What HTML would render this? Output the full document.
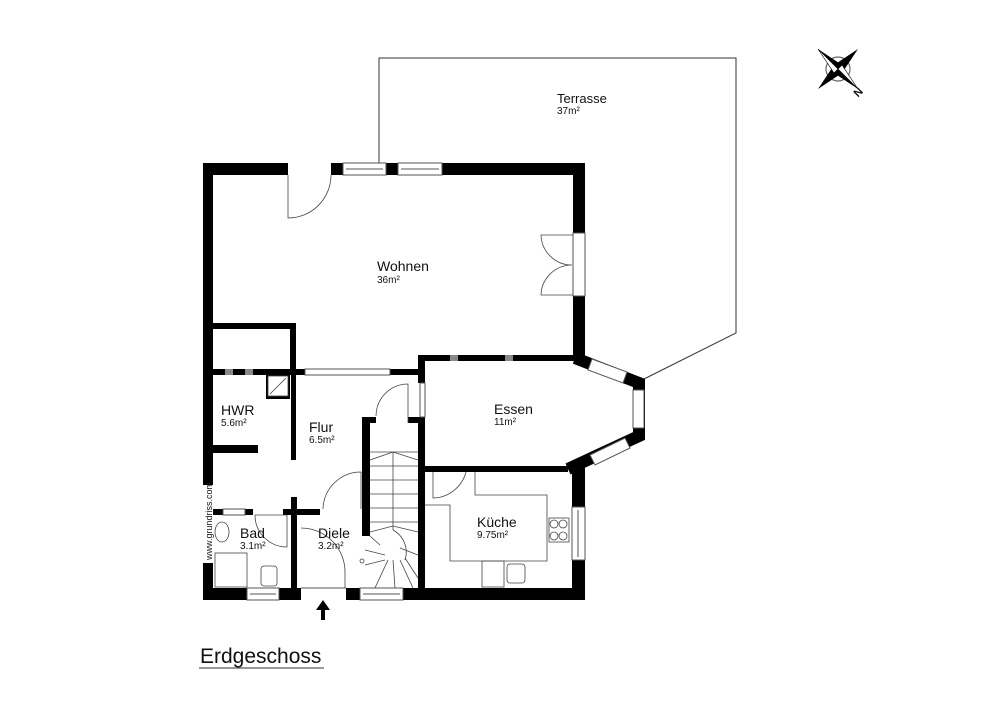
<!DOCTYPE html>
<html><head><meta charset="utf-8"><style>
html,body{margin:0;padding:0;background:#fff}
svg{display:block}
text{font-family:"Liberation Sans",sans-serif;fill:#111}
</style></head><body>
<svg width="1000" height="709" viewBox="0 0 1000 709" xmlns="http://www.w3.org/2000/svg">
<rect width="1000" height="709" fill="#fff"/>
<polyline points="379,163 379,58 736,58 736,333 642,380" fill="none" stroke="#333" stroke-width="1"/>
<text x="557" y="103" font-size="13">Terrasse</text>
<text x="557" y="114" font-size="10">37m²</text>

<g fill="#000">
<rect x="203" y="163" width="10" height="437"/>
<rect x="203" y="163" width="85" height="12"/>
<rect x="331" y="163" width="12" height="12"/>
<rect x="386" y="163" width="12" height="12"/>
<rect x="442" y="163" width="143" height="12"/>
<rect x="573" y="163" width="12" height="70"/>
<rect x="573" y="296" width="12" height="65"/>
<rect x="203" y="588" width="44" height="12"/>
<rect x="279" y="588" width="22" height="12"/>
<rect x="346" y="588" width="14" height="12"/>
<rect x="403" y="588" width="182" height="12"/>
<rect x="213" y="323" width="83" height="6"/>
<rect x="290" y="323" width="6" height="50"/>
<rect x="213" y="369" width="92" height="6"/>
<rect x="390" y="369" width="30" height="6"/>
<rect x="266" y="369" width="24" height="30"/>
<rect x="291" y="375" width="5" height="85"/>
<rect x="213" y="445" width="45" height="8"/>
<rect x="213" y="509" width="10" height="6"/>
<rect x="245" y="509" width="8" height="6"/>
<rect x="283" y="509" width="37" height="6"/>
<rect x="291" y="497" width="6" height="91"/>
<rect x="362" y="417" width="8" height="119"/>
<rect x="362" y="417" width="14" height="6"/>
<rect x="408" y="417" width="17" height="6"/>
<rect x="418" y="355" width="7" height="28"/>
<rect x="418" y="417" width="7" height="181"/>
<rect x="418" y="355" width="160" height="6"/>
<rect x="418" y="466" width="150" height="6"/>
<rect x="572" y="466" width="13" height="41"/>
<rect x="572" y="560" width="13" height="38"/>
</g>
<rect x="203" y="485" width="10" height="78" fill="#fff"/>
<polyline points="575,358 639,383 639,436 568,469" fill="none" stroke="#000" stroke-width="12" stroke-linejoin="miter"/>
<g stroke="#555" stroke-width="1" fill="#fff">
<polygon points="592,359 627,372 623,383 588,370"/>
<rect x="633" y="390" width="11" height="38"/>
<polygon points="590,455 625,438 630,448 595,465"/>
</g>
<g fill="#fff" stroke="#555" stroke-width="1">
<rect x="343" y="163" width="43" height="12"/><line x1="346" y1="169" x2="383" y2="169"/>
<rect x="398" y="163" width="44" height="12"/><line x1="401" y1="169" x2="439" y2="169"/>
<rect x="573" y="233" width="12" height="63"/>
<rect x="247" y="588" width="32" height="12"/><line x1="250" y1="594" x2="276" y2="594"/>
<rect x="360" y="588" width="43" height="12"/><line x1="363" y1="594" x2="400" y2="594"/>
<rect x="572" y="507" width="13" height="53"/><line x1="578" y1="510" x2="578" y2="557"/>
<rect x="305" y="369" width="85" height="6"/>
<rect x="420" y="383" width="5" height="34"/>
<rect x="223" y="509" width="22" height="6"/>
<line x1="301" y1="588" x2="346" y2="588"/>
</g>
<g fill="#888"><rect x="505" y="355" width="8" height="6"/><rect x="450" y="355" width="8" height="6"/><rect x="225" y="369" width="8" height="6"/><rect x="245" y="369" width="8" height="6"/></g>
<g fill="none" stroke="#444" stroke-width="0.8">
<path d="M288,175 V218 A43,43 0 0 0 331,175"/>
<path d="M573,235 H541 A31,31 0 0 0 572,265 M573,295 H541 A31,31 0 0 1 572,265"/>
<path d="M408,423 V384 A32,32 0 0 0 376,416"/>
<path d="M361,509 V472 A38,38 0 0 0 323,509"/>
<path d="M301,528 A44,44 0 0 1 345,572 V588"/>
<path d="M255,515 H287 V547 A32,32 0 0 1 255,515"/>
<path d="M433,472 V498 A35,35 0 0 0 466,472"/>
<rect x="268" y="376" width="20" height="20" fill="#fff"/><line x1="270" y1="394" x2="286" y2="378"/>
<polyline points="425,505 450,505 450,561 547,561 547,495 475,495 475,472"/>
<rect x="482" y="561" width="22" height="26"/><rect x="507" y="564" width="18" height="19" rx="3"/>
<rect x="549" y="518" width="20" height="24"/>
<circle cx="554" cy="524" r="4"/><circle cx="563" cy="524" r="4"/><circle cx="554" cy="536" r="4"/><circle cx="563" cy="536" r="4"/>
<rect x="215" y="553" width="32" height="34"/><ellipse cx="222" cy="532" rx="7" ry="10"/>
<rect x="261" y="566" width="16" height="20" rx="3"/>
<line x1="370" y1="452" x2="418" y2="452"/>
<path d="M370,460 L393,452 L418,460 M370,532 L393,526 L418,532"/>
<line x1="370" y1="466" x2="418" y2="466"/><line x1="370" y1="480" x2="418" y2="480"/>
<line x1="370" y1="494" x2="418" y2="494"/><line x1="370" y1="508" x2="418" y2="508"/>
<line x1="370" y1="522" x2="418" y2="522"/><line x1="393" y1="452" x2="393" y2="530"/>
<path d="M370,536 L380,545 M365,550 L385,555 M365,565 L385,560 M375,588 L388,560 M395,588 L393,560 M413,588 L400,560 M418,578 L405,558 M418,555 L400,548"/>
<path d="M393,530 A25,25 0 0 1 405,560"/>
<circle cx="362" cy="561" r="2"/>
</g>
<g font-size="14">
<text x="377" y="271">Wohnen</text><text x="377" y="283" font-size="10">36m²</text>
<text x="494" y="414">Essen</text><text x="494" y="425" font-size="10">11m²</text>
<text x="221" y="415">HWR</text><text x="221" y="426" font-size="10">5.6m²</text>
<text x="309" y="432">Flur</text><text x="309" y="443" font-size="10">6.5m²</text>
<text x="240" y="538">Bad</text><text x="240" y="549" font-size="10">3.1m²</text>
<text x="318" y="538">Diele</text><text x="318" y="549" font-size="10">3.2m²</text>
<text x="477" y="527">Küche</text><text x="477" y="538" font-size="10">9.75m²</text>
</g>
<text x="212" y="560" font-size="9" fill="#444" transform="rotate(-90 212 560)">www.grundriss.com</text>
<polygon points="323,600 316,610 321,610 321,620 325,620 325,610 330,610" fill="#000"/>
<text x="200" y="663" font-size="21">Erdgeschoss</text>
<line x1="199" y1="668" x2="324" y2="668" stroke="#333" stroke-width="1"/>
<g transform="translate(838,69)">
<circle r="12" fill="none" stroke="#666" stroke-width="1.2"/>
<polygon points="-20,-20 4,-4 -4,4" fill="#000"/><polygon points="20,20 -4,4 4,-4" fill="#000"/>
<polygon points="20,-20 4,4 -4,-4" fill="#000"/><polygon points="-20,20 -4,-4 4,4" fill="#000"/>
<polygon points="-20,-20 -4,4 0,0" fill="#fff" stroke="#000" stroke-width="0.6"/>
<polygon points="20,20 4,-4 0,0" fill="#fff" stroke="#000" stroke-width="0.6"/>
<text x="16" y="27" font-size="11" font-weight="bold" transform="rotate(-45 20 23)">N</text>
</g>
</svg>
</body></html>
